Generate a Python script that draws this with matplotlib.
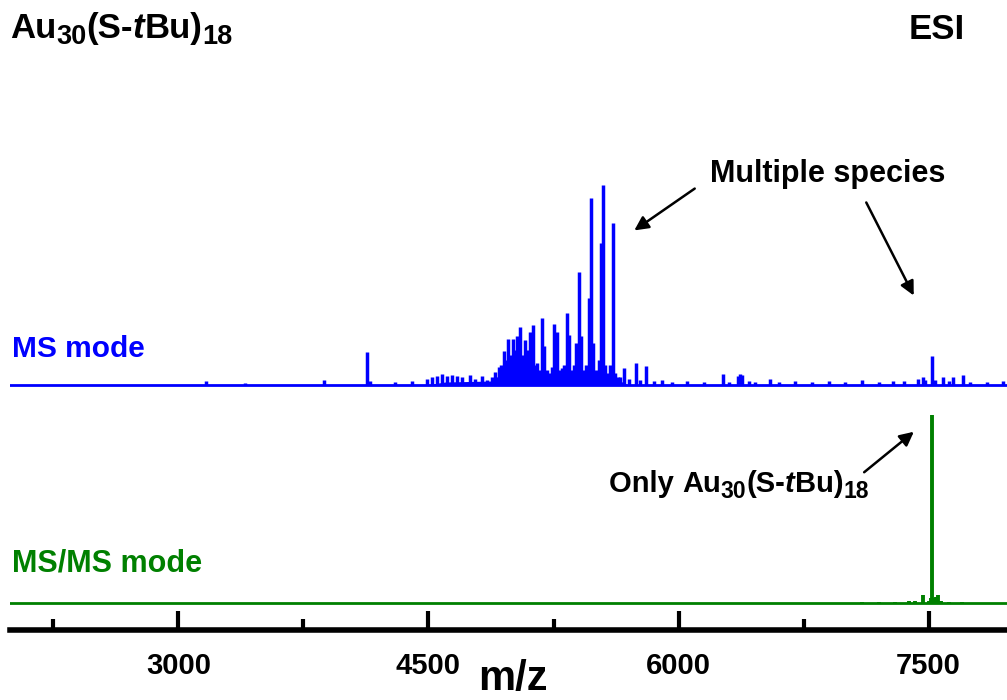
import matplotlib
matplotlib.use("Agg")
import matplotlib.pyplot as plt
from matplotlib.patches import FancyArrowPatch

plt.rcParams['font.family'] = ['Liberation Sans', 'DejaVu Sans']
plt.rcParams['font.weight'] = 'bold'

# MS mode peaks (m/z, relative intensity, tallest = 100)
ms_mz = [3165, 3400, 3875, 4133, 4150, 4300, 4400,
         4490, 4520, 4550, 4579, 4610, 4640, 4670, 4700, 4749, 4780, 4819, 4850, 4880,
         4899, 4921, 4935, 4951, 4965, 4979, 4992, 5005, 5017, 5029, 5040, 5049, 5060,
         5070, 5081, 5095, 5109, 5125, 5140, 5151, 5165, 5181, 5195, 5210, 5225, 5240,
         5253, 5269, 5285, 5299, 5315, 5329, 5341, 5355, 5370, 5385, 5401, 5415, 5430,
         5445, 5461, 5475, 5489, 5505, 5520, 5533, 5547, 5560, 5575, 5590, 5605, 5619,
         5635, 5649, 5673, 5700, 5743, 5770, 5805, 5850, 5900, 5960, 6050, 6150, 6267,
         6300, 6357, 6370, 6381, 6420, 6460, 6549, 6600, 6700, 6800, 6900, 7000, 7100,
         7200, 7289, 7350, 7439, 7465, 7480, 7523, 7540, 7589, 7620, 7649, 7705, 7750,
         7850, 7947]
ms_int = [2, 1, 2.5, 16.5, 2, 1.5, 2,
          3, 4, 4.5, 5.5, 4.5, 5, 4.5, 4, 5, 3, 4.5, 2.5, 4,
          6.5, 9, 10, 17, 12.5, 23, 15, 23, 17.5, 24.5, 20, 29, 15,
          12.5, 22.5, 17.5, 26.5, 30, 10, 11, 7.5, 33.5, 19.5, 7.5, 6, 9,
          30.5, 26.5, 7.5, 8.5, 10, 36, 25, 7.5, 10, 21, 56.5, 24.5, 7.5,
          10, 43.5, 93.5, 21, 7.5, 12.5, 71, 100, 10, 6, 10, 81, 6,
          4, 4, 8.5, 3, 11, 2.5, 9.5, 2, 2.5, 1.5, 2, 1.5, 5.5,
          1.5, 4.5, 5.5, 5, 2, 1.5, 3, 1.5, 2, 1.5, 2, 1.5, 2.5,
          1.5, 2, 2, 3, 4, 2.5, 14.5, 2.5, 4, 2, 4, 5, 1.5,
          1.5, 2]
# raised floor under the dense cluster
floor_mz = [4480, 4600, 4880, 4900, 5000, 5200, 5400, 5600, 5650, 5700]
floor_int = [0, 1.5, 2, 4, 4.5, 5, 5, 4.5, 2, 0]

# MS/MS mode peaks
msms_mz = [7100, 7200, 7300, 7380, 7420, 7465, 7500, 7515, 7523, 7531, 7545, 7559, 7575, 7620, 7700]
msms_int = [0.5, 0.5, 0.6, 0.8, 1, 4.5, 1, 2.5, 100, 2.5, 3, 4.5, 1, 0.6, 0.5]

major_ticks = [3000, 4500, 6000, 7500]
minor_ticks = [2250, 3750, 5250, 6750]

ms_color = '#0000ff'
msms_color = '#008000'

W, H = 1007, 700
fig = plt.figure(figsize=(W / 100, H / 100), dpi=100)
ax_bottom = 630
ax = fig.add_axes([10 / W, (H - ax_bottom) / H, 1 - 10 / W, ax_bottom / H])
ax.set_xlim(1990, 7970)
ax.set_ylim(0, ax_bottom)  # y counted in pixels above the axis line

ms_base, ms_scale = ax_bottom - 385, 2.0
msms_base, msms_scale = ax_bottom - 603, 1.88

# MS spectrum
ax.axhline(ms_base, color=ms_color, lw=2.0)
ax.fill_between(floor_mz, ms_base, [ms_base + f * ms_scale for f in floor_int],
                color=ms_color, lw=0)
ax.vlines(ms_mz, ms_base, [ms_base + v * ms_scale for v in ms_int],
          color=ms_color, lw=2.5)

# MS/MS spectrum
ax.axhline(msms_base, color=msms_color, lw=2.0)
ax.vlines(msms_mz, msms_base, [msms_base + v * msms_scale for v in msms_int],
          color=msms_color, lw=2.8)

for s in ['left', 'right', 'top']:
    ax.spines[s].set_visible(False)
ax.spines['bottom'].set_linewidth(4)
ax.set_yticks([])
ax.set_xticks(major_ticks)
ax.set_xticks(minor_ticks, minor=True)
ax.tick_params(axis='x', which='major', direction='in', length=14, width=3,
               labelsize=21, pad=16)
ax.tick_params(axis='x', which='minor', direction='in', length=8, width=3)
for lab in ax.get_xticklabels():
    lab.set_fontweight('bold')

renderer = fig.canvas.get_renderer()


def ftxt(x, y, s, **kw):
    return fig.text(x / W, 1 - y / H, s, fontweight='bold', va='baseline', **kw)


def rich(x, y, parts, size, sub_size, sub_drop):
    # draw pieces one after another: (text, kind) with kind n / sub / it
    for s, kind in parts:
        if kind == 'sub':
            t = ftxt(x, y + sub_drop, s, fontsize=sub_size)
        elif kind == 'it':
            t = ftxt(x, y, s, fontsize=size, style='italic')
        else:
            t = ftxt(x, y, s, fontsize=size)
        x += t.get_window_extent(renderer).width


formula = [('Au', 'n'), ('30', 'sub'), ('(S-', 'n'), ('t', 'it'), ('Bu)', 'n'), ('18', 'sub')]
rich(10, 38, formula, 25, 19.5, 6)
rich(609, 492, [('Only ', 'n')] + formula, 21, 16.5, 6)
ftxt(909, 39, 'ESI', fontsize=25)
ftxt(710, 182, 'Multiple species', fontsize=22)
ftxt(12, 357, 'MS mode', fontsize=21.5, color=ms_color)
ftxt(12, 572, 'MS/MS mode', fontsize=22, color=msms_color)
ftxt(513, 690, 'm/z', fontsize=30, ha='center')

arrows = [((697, 187), (632, 232)), ((865, 200), (915, 298)), ((862, 474), (916, 430))]
for (tx, ty), (hx, hy) in arrows:
    fig.add_artist(FancyArrowPatch(
        (tx / W, 1 - ty / H), (hx / W, 1 - hy / H), transform=fig.transFigure,
        arrowstyle='-|>,head_length=0.6,head_width=0.3', mutation_scale=14,
        color='black', lw=1.8))

fig.savefig('out.png', dpi=100)
